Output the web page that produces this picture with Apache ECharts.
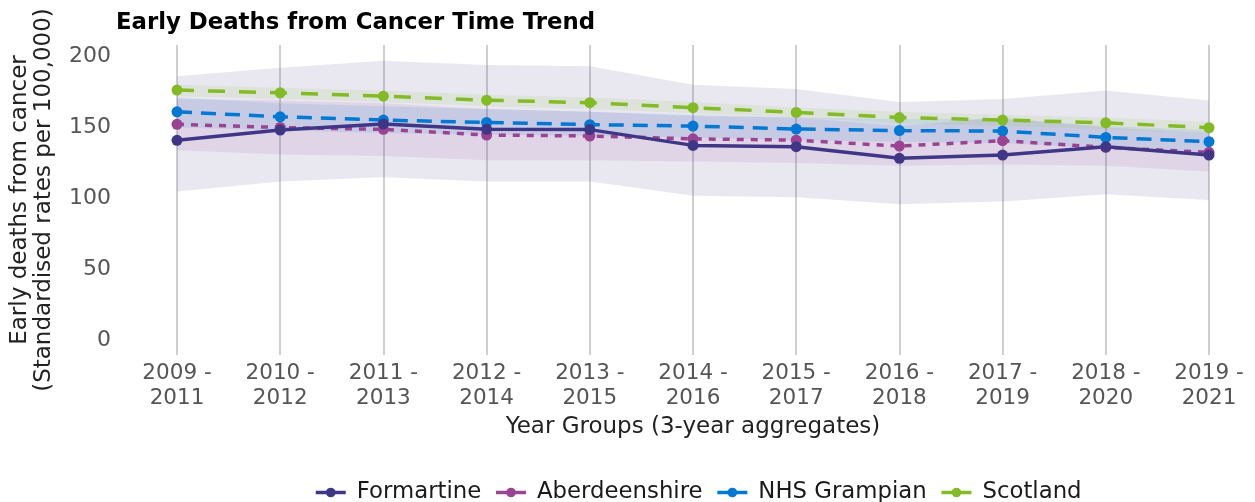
<!DOCTYPE html>
<html>
<head>
<meta charset="utf-8">
<script src="https://cdn.jsdelivr.net/npm/echarts@6/dist/echarts.min.js"></script>
<style>
html,body{margin:0;padding:0;background:#fff;}
#chart{width:1255px;height:502px;}
</style>
</head>
<body>
<div id="chart"></div>
<script>
// ---- data ----
const categories = ['2009 -\n2011','2010 -\n2012','2011 -\n2013','2012 -\n2014','2013 -\n2015','2014 -\n2016','2015 -\n2017','2016 -\n2018','2017 -\n2019','2018 -\n2020','2019 -\n2021'];
const seriesNames = ['Formartine','Aberdeenshire','NHS Grampian','Scotland'];

const formartine     = [141.0, 148.2, 152.4, 148.7, 148.5, 137.4, 136.5, 128.3, 130.6, 136.5, 130.6];
const aberdeenshire  = [152.2, 150.0, 148.7, 144.7, 144.0, 142.0, 141.1, 136.9, 140.7, 136.0, 132.5];
const nhsGrampian    = [161.0, 157.5, 155.2, 153.5, 152.0, 151.0, 148.9, 147.8, 147.5, 143.0, 140.0];
const scotland       = [176.3, 174.4, 172.0, 169.2, 167.4, 163.9, 160.6, 157.0, 155.2, 153.3, 149.8];

const formartineLower    = [105, 112, 115, 112, 112, 102, 101, 96, 98, 103, 99];
const formartineUpper    = [186, 192, 197, 194, 193, 180, 177, 168, 170, 176, 169];
const aberdeenshireLower = [134, 131, 130, 127, 127, 126, 125, 123, 124, 123, 119];
const aberdeenshireUpper = [170, 169, 167, 163, 161, 158, 157, 151, 157, 150, 146];
const nhsGrampianLower   = [150, 148, 146, 145, 144, 143, 141, 140, 139, 135, 132];
const nhsGrampianUpper   = [171, 167, 165, 163, 161, 159, 157, 156, 156, 151, 148];
const scotlandLower      = [172, 170, 168, 165, 163, 160, 157, 153, 151, 149, 146];
const scotlandUpper      = [180, 178, 176, 173, 171, 168, 164, 161, 159, 157, 154];

const yTickLabels = [0, 50, 100, 150, 200];

// ---- styles ----
const colors = {Formartine:'#3F3685', Aberdeenshire:'#9B4393', 'NHS Grampian':'#0078D4', Scotland:'#83BB26'};
const bandFill = {Formartine:'rgba(63,54,133,0.115)', Aberdeenshire:'rgba(155,67,147,0.11)', 'NHS Grampian':'rgba(0,120,212,0.11)', Scotland:'rgba(131,187,38,0.11)'};
const dashes = {Formartine:'solid', Aberdeenshire:[7,7], 'NHS Grampian':[15,9], Scotland:[17,14]};
const FONT = 'DejaVu Sans';

const values = {Formartine:formartine, Aberdeenshire:aberdeenshire, 'NHS Grampian':nhsGrampian, Scotland:scotland};
const lowers = {Formartine:formartineLower, Aberdeenshire:aberdeenshireLower, 'NHS Grampian':nhsGrampianLower, Scotland:scotlandLower};
const uppers = {Formartine:formartineUpper, Aberdeenshire:aberdeenshireUpper, 'NHS Grampian':nhsGrampianUpper, Scotland:scotlandUpper};

const series = [];
// ribbons
seriesNames.forEach(function(n){
  series.push({
    name: n + ' lower', type:'line', data: lowers[n], stack:'band_'+n,
    symbol:'none', silent:true, lineStyle:{opacity:0}, z:1
  });
  series.push({
    name: n + ' band', type:'line', data: uppers[n].map(function(u,i){return u - lowers[n][i];}),
    stack:'band_'+n, symbol:'none', silent:true, lineStyle:{opacity:0},
    areaStyle:{color: bandFill[n], opacity:1}, z:1
  });
});
// lines (Formartine on top)
['Scotland','NHS Grampian','Aberdeenshire','Formartine'].forEach(function(n){
  series.push({
    name:n, type:'line', data: values[n], symbol:'circle', symbolSize:11,
    itemStyle:{color: colors[n]},
    lineStyle:{color: colors[n], width:3.5, type: dashes[n]},
    z:3
  });
});

const chart = echarts.init(document.getElementById('chart'), null, {renderer:'canvas'});
chart.setOption({
  animation:false,
  backgroundColor:'#ffffff',
  textStyle:{fontFamily:FONT},
  title:{
    text:'Early Deaths from Cancer Time Trend', left:111, top:7,
    textStyle:{fontFamily:FONT, fontSize:22.8, fontWeight:'bold', color:'#000'}
  },
  grid:{left:176, right:46, top:45, bottom:147, containLabel:false},
  legend:{
    data: seriesNames, left:309, top:476, itemWidth:30, itemHeight:12, itemGap:13,
    lineStyle:{type:'solid', width:3.5},
    textStyle:{fontFamily:FONT, fontSize:22.8, color:'#1a1a1a', padding:[0,0,0,6]}
  },
  xAxis:{
    type:'category', data: categories, boundaryGap:false,
    axisLine:{show:false}, axisTick:{show:false},
    splitLine:{show:true, lineStyle:{color:'#c3c3c8', width:1.6}},
    axisLabel:{fontFamily:FONT, fontSize:21.5, color:'#555', lineHeight:25, margin:6, interval:0},
    name:'Year Groups (3-year aggregates)', nameLocation:'middle', nameGap:57,
    nameTextStyle:{fontFamily:FONT, fontSize:23, color:'#222'}
  },
  yAxis:{
    type:'value', min:-10, max:208, interval:10,
    axisLine:{show:false}, axisTick:{show:false}, splitLine:{show:false},
    axisLabel:{fontFamily:FONT, fontSize:22, color:'#555', margin:66,
      formatter:function(v){ return yTickLabels.indexOf(v) >= 0 ? String(v) : ''; }},
    name:'Early deaths from cancer\n(Standardised rates per 100,000)', nameLocation:'middle', nameRotate:90, nameGap:121,
    nameTextStyle:{fontFamily:FONT, fontSize:23, color:'#222', lineHeight:24}
  },
  series: series
});
</script>
</body>
</html>
